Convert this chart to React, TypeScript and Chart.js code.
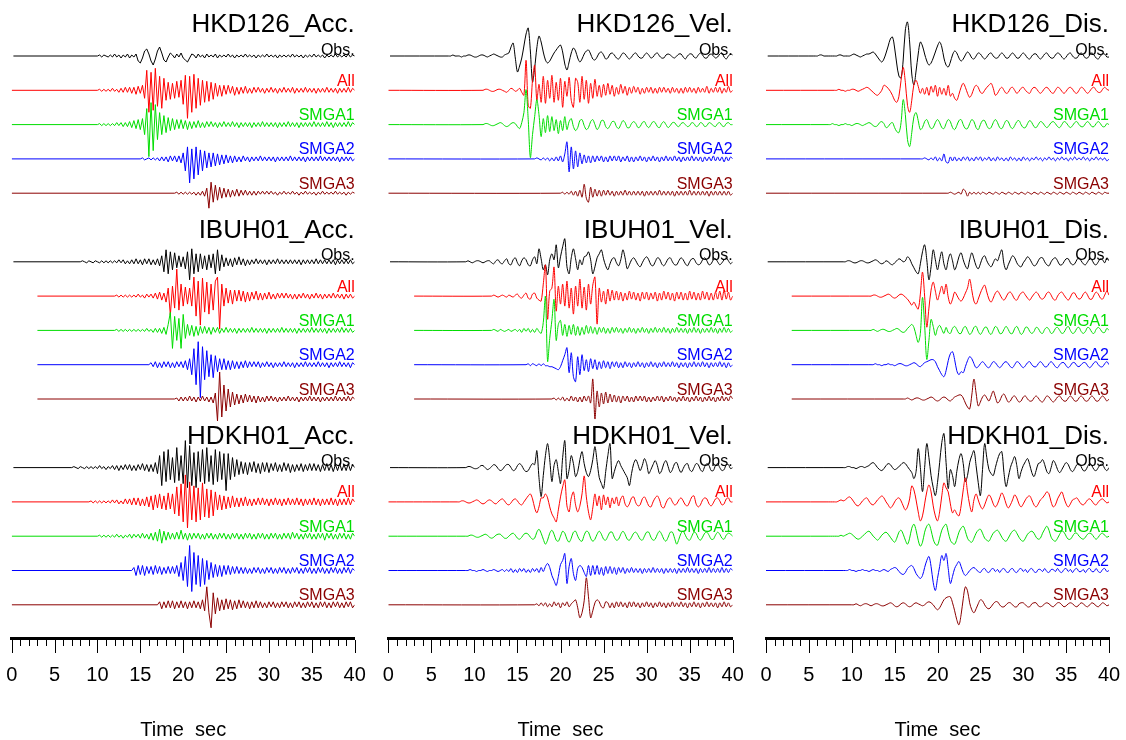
import { useEffect, useRef } from "react";
import { Chart, registerables } from "chart.js";

Chart.register(...registerables);

// ---------------------------------------------------------------------------
// Labels and styling of the record section
// ---------------------------------------------------------------------------
const stations = ["HKD126", "IBUH01", "HDKH01"];
const quantities = ["Acc.", "Vel.", "Dis."];
const traceNames = ["Obs.", "All", "SMGA1", "SMGA2", "SMGA3"];
const traceColors = ["#000000", "#ff0000", "#00dd00", "#0000ff", "#8b0000"];
const timeTicks = [0, 5, 10, 15, 20, 25, 30, 35, 40];
const axisTitle = "Time  sec";

// sampling interval of every waveform below (s)
const STEP = 0.25;
// time where the plotted record begins (s): observed records / synthetics per station
const obsStart = 0.2;
const synthStart = [0, 3, 0];

// ---------------------------------------------------------------------------
// Waveforms (normalised amplitude, one value every STEP seconds from onset)
// ---------------------------------------------------------------------------
// HKD126 acceleration
const hkdAccOnset = [10, 10, 10, 15, 19];
const hkdAccObs = [
  0,1,-1,1,0,-1,1,-1,2,-1,1,-2,1,-1,2,-2,1,-1,2,-5,
  -7,-2,5,7,2,-5,-9,-3,5,9,3,-4,-6,-1,3,1,-2,2,-1,3,
  -2,-4,-6,-2,2,1,-2,2,-1,1,-2,2,-1,1,-1,2,-2,1,-1,1,
  -1,2,-1,1,-2,1,-1,1,-1,2,-1,1,-1,1,-2,1,-1,1,-1,2,
  -1,1,-1,1,-2,1,-1,1,-1,1,-1,2,-1,1,-1,1,-2,1,-1,1,
  -1,2,-1,1,-1,1,-2,1,-1,1,-1,2,-1,1,-1,1,-1,2,-1,1,
  0,
];
const hkdAccAll = [
  0,1,-1,1,-1,1,-1,2,-1,1,-2,2,-2,3,-2,3,-3,3,-4,4,
  -3,5,-8,20,-22,18,-20,22,-16,14,-18,12,-10,8,-9,7,-8,9,-7,10,
  -14,15,-28,14,-22,16,-18,12,-15,10,-12,9,-11,8,-9,7,-6,5,-6,5,
  -4,5,-3,4,-5,3,-4,3,-3,4,-3,2,-3,3,-2,3,-2,2,-3,2,
  -2,3,-2,2,-3,2,-2,3,-2,2,-2,3,-3,2,-2,2,-2,3,-2,2,
  -2,2,-3,2,-2,2,-2,3,-2,2,-2,2,-3,2,-2,2,-2,3,-2,2,
  0,
];
const hkdAccS1 = [
  0,1,-1,1,-1,1,-1,1,-1,2,-1,2,-2,2,-2,3,-3,4,-4,5,
  -5,6,-10,16,-32,22,-26,20,-15,12,-10,9,-8,7,-6,6,-5,5,-4,5,
  -4,4,-5,3,-4,3,-3,4,-3,2,-3,3,-2,3,-2,2,-3,2,-2,3,
  -2,2,-2,3,-2,2,-3,2,-2,2,-2,2,-3,2,-2,2,-2,3,-2,2,
  -2,2,-2,2,-3,2,-2,2,-2,3,-2,2,-2,2,-3,2,-2,2,-2,2,
  -2,3,-2,2,-2,2,-2,3,-2,2,-3,2,-2,2,-2,2,-2,3,-2,2,
  0,
];
const hkdAccS2 = [
  0,1,-1,0,1,-1,1,-1,1,-2,2,-2,2,-3,3,-2,3,-3,3,-4,
  6,-12,12,-24,10,-20,12,-16,9,-12,8,-9,6,-8,6,-7,5,-6,4,-5,
  4,-4,3,-4,3,-3,2,-3,3,-2,2,-3,2,-2,2,-2,3,-2,2,-2,
  2,-2,2,-3,2,-2,2,-2,2,-2,3,-2,2,-2,2,-2,2,-3,2,-2,
  2,-2,2,-2,3,-2,2,-2,2,-2,2,-2,2,-3,2,-2,2,-2,2,-2,
  0,
];
const hkdAccS3 = [
  0,1,-1,1,
  -1,1,-1,1,-1,1,-2,1,-2,2,-3,5,-15,11,-9,8,-7,6,-5,5,
  -4,4,-4,3,-3,4,-3,3,-2,3,-2,2,-2,2,-2,2,-1,2,-1,2,
  -1,2,-1,1,-2,1,-1,2,-1,1,-1,2,-1,1,-2,1,-1,2,-1,1,
  -1,1,-2,1,-1,2,-1,1,-1,1,-1,2,-1,1,-1,1,-2,1,-1,1,
  0,
];

// IBUH01 acceleration
const ibuAccOnset = [8, 12, 12, 16, 19];
const ibuAccObs = [
  0,1,0,-1,1,0,-1,1,0,-1,1,-1,1,-1,1,-1,1,-1,2,-1,
  2,-2,1,-2,2,-2,3,-2,2,-3,3,-2,3,-3,2,-3,3,-4,6,-10,
  12,-12,10,-8,9,-6,6,-5,5,-7,10,-18,13,-12,8,-10,8,-7,6,-8,
  7,-6,8,-12,12,-9,7,-5,4,-4,3,-5,4,-3,5,-3,3,-4,2,-3,
  2,-2,3,-2,2,-2,2,-3,2,-2,2,-2,3,-2,2,-2,2,-2,2,-2,
  2,-2,2,-3,2,-2,2,-2,2,-2,3,-2,2,-2,2,-2,2,-2,2,-3,
  2,-2,2,-2,2,-2,2,-2,0,
];
const ibuAccAll = [
  0,1,-1,1,-1,1,-1,1,-1,1,-1,2,-1,1,-2,2,-1,2,-2,3,
  -3,4,-4,3,-6,8,-19,10,-12,27,-14,12,-10,9,-8,8,-10,19,-20,15,
  -29,18,-16,14,-18,12,-14,15,19,-33,12,-10,8,-7,6,-8,6,-5,6,-5,
  5,-6,4,-5,4,-3,5,-4,3,-4,3,-3,4,-3,2,-3,3,-2,3,-2,
  3,-2,2,-3,2,-3,2,-2,3,-2,2,-3,2,-2,3,-2,2,-3,2,-2,
  2,-2,3,-2,2,-2,2,-3,2,-2,2,-2,0,
];
const ibuAccS1 = [
  0,1,-1,1,-1,1,-1,1,-1,1,-1,1,-1,1,-1,2,-1,1,-2,2,
  -2,2,-3,3,-4,6,18,-18,14,-10,12,-18,16,-8,6,-5,5,-6,4,-5,
  4,-3,4,-3,3,-4,3,-2,3,-3,2,-2,3,-2,2,-2,2,-3,2,-2,
  2,-2,2,-2,3,-2,2,-2,2,-2,2,-3,2,-2,2,-2,2,-2,3,-2,
  2,-2,2,-2,2,-3,2,-2,2,-2,2,-2,3,-2,2,-2,2,-2,2,-3,
  2,-2,2,-2,2,-2,3,-2,2,-2,2,-2,0,
];
const ibuAccS2 = [
  0,2,-2,3,-3,2,-3,3,-2,3,-3,2,-3,3,-2,3,-3,4,-5,6,
  -10,16,-20,23,-33,18,-15,14,-12,10,-13,9,-7,6,-5,6,-5,4,-5,4,
  -4,3,-4,3,-3,4,-3,3,-2,3,-2,3,-3,2,-2,3,-2,2,-3,2,
  -2,2,-2,3,-2,2,-2,2,-3,2,-2,2,-2,3,-2,2,-2,2,-2,3,
  -2,2,-2,2,-3,2,-2,2,-2,3,-2,2,-2,2,-3,2,0,
];
const ibuAccS3 = [
  0,1,-2,2,
  -2,2,-2,3,-2,2,-3,2,-2,3,-2,2,-3,2,-4,6,-22,27,-18,14,
  -12,10,-8,7,-6,5,-5,4,-4,5,-3,4,-3,3,-4,3,-3,2,-3,3,
  -2,3,-2,2,-3,2,-2,2,-2,3,-2,2,-2,2,-3,2,-2,2,-2,3,
  -2,2,-2,2,-3,2,-2,2,-2,2,-2,3,-2,2,-2,2,-2,3,-2,2,
  0,
];

// HDKH01 acceleration
const hdkAccOnset = [7, 9, 10, 14, 17];
const hdkAccObs = [
  0,1,0,-1,1,0,-1,1,-1,1,-1,1,-1,2,-1,1,-2,1,-1,2,
  -2,2,-3,2,-2,3,-2,3,-3,2,-3,3,-2,4,-3,3,-4,3,-4,5,
  -6,12,-18,16,-14,18,-12,10,-15,20,-13,12,-16,27,-20,22,-18,15,-20,16,
  -14,18,-16,20,-14,12,-17,18,-14,16,-12,14,-23,14,-12,10,-9,8,-7,6,
  -6,5,-7,5,-4,6,-5,4,-6,5,-4,5,-5,4,-3,5,-4,3,-4,5,
  -3,4,-5,3,-4,3,-3,4,-4,3,-3,4,-3,4,-3,3,-4,3,-3,4,
  -3,3,-4,3,-3,4,-3,3,-3,4,-3,3,0,
];
const hdkAccAll = [
  0,1,-1,1,-1,1,-1,1,-1,1,-1,2,-1,2,-2,1,-2,3,-2,3,
  -3,4,-3,4,-4,3,-4,5,-5,6,-8,7,-6,8,-7,6,-8,9,-7,8,
  -12,15,-14,18,-20,27,-26,20,-18,16,-20,14,-18,19,-15,13,-16,12,-14,10,
  -8,7,-8,6,-7,5,-6,6,-5,4,-5,4,-4,5,-4,3,-4,3,-3,4,
  -3,4,-3,3,-4,3,-3,4,-3,3,-4,3,-3,4,-3,3,-3,4,-3,3,
  -4,3,-3,3,-3,4,-3,3,-4,3,-3,3,-3,4,-3,3,-4,3,-3,3,
  -3,4,-3,3,0,
];
const hdkAccS1 = [
  0,1,-1,1,-1,1,-1,1,-1,2,-1,1,-2,1,-1,2,-2,2,-1,2,
  -2,3,-2,2,-3,3,-4,4,-5,7,-7,5,-4,4,-3,3,-3,4,-3,6,
  -3,3,-4,3,-3,3,-2,3,-3,2,-3,3,-2,3,-3,2,-3,3,-2,3,
  -3,2,-3,3,-2,3,-3,2,-3,3,-2,3,-3,2,-3,3,-2,3,-3,2,
  -3,3,-2,3,-3,2,-3,3,-2,3,-3,4,-2,3,-3,2,-3,3,-2,3,
  -3,2,-3,3,-2,3,-4,3,-2,3,-3,2,-3,3,-2,3,-3,2,-3,3,
  0,
];
const hdkAccS2 = [
  0,3,-5,5,-4,5,-5,4,-3,4,-4,5,-3,4,-4,3,-3,4,-3,4,
  -3,5,-6,8,-10,14,-16,25,-21,18,-14,15,-16,12,-14,10,-9,8,-7,6,
  -6,5,-6,5,-4,5,-4,4,-3,4,-3,3,-3,3,-3,2,-3,3,-2,3,
  -3,2,-3,3,-2,3,-3,2,-3,3,-2,3,-3,2,-3,3,-2,3,-3,2,
  -3,3,-2,3,-3,2,-3,3,-2,3,-3,2,-3,3,-2,3,-3,2,-3,3,
  -2,3,-3,2,0,
];
const hdkAccS3 = [
  0,3,-4,3,-3,4,-3,4,-4,3,-3,4,-3,3,-4,3,-3,4,-3,3,
  -4,5,-6,18,-8,-23,12,-9,7,-6,5,-5,6,-4,5,-5,4,-4,5,-3,
  4,-3,3,-4,3,-3,4,-3,3,-3,2,-3,3,-2,3,-3,2,-3,3,-2,
  3,-3,2,-3,3,-2,3,-3,2,-3,3,-2,3,-3,2,-3,3,-2,3,-3,
  2,-3,3,-2,3,-3,2,-3,3,-2,3,-3,0,
];

// HKD126 velocity
const hkdVelOnset = [7, 11, 11, 17, 20];
const hkdVelObs = [
  0,0,1,0,0,0,-1,0,0,1,1,0,-1,-1,0,1,1,0,-1,0,
  1,2,1,0,-1,-1,1,2,3,9,13,-2,-16,-10,-2,10,22,28,5,-26,
  -12,8,20,14,4,-4,-7,-5,-1,3,6,9,11,4,-8,-14,-6,3,8,5,
  -2,-6,-3,2,5,6,2,-3,-4,-1,3,4,1,-3,-2,2,3,1,-2,-3,
  0,3,2,-1,-3,-1,2,3,0,-2,-2,1,3,1,-2,-1,2,3,0,-2,
  -2,1,2,1,-1,-2,0,2,2,-1,-3,0,2,2,-1,-2,1,3,1,-2,
  -2,1,2,0,-2,-1,2,3,-1,-3,0,2,1,
];
const hkdVelAll = [
  0,1,1,0,-1,-1,0,1,1,0,-1,-2,0,2,1,-1,0,2,-2,-5,
  30,-15,-18,10,25,-10,6,-12,14,-13,10,-8,15,-12,8,-10,12,-17,9,-6,
  13,-10,-17,12,8,-12,14,-9,10,-13,7,-8,11,-6,5,-7,6,-5,7,-4,
  5,-6,3,-4,6,-3,4,-5,3,-3,4,-2,3,-4,2,-3,3,-2,3,-3,
  2,-3,3,-2,3,-2,2,-3,3,-2,2,-3,2,-3,3,-2,3,-2,2,-3,
  3,-2,2,-2,4,-3,2,-2,3,-2,3,-3,2,-2,4,-2,0,
];
const hkdVelS1 = [
  0,1,1,0,-1,-1,0,1,2,1,-1,-2,-1,1,2,1,-2,-4,2,12,
  35,5,-33,-10,8,25,10,-12,6,-8,9,-7,8,-6,5,-9,4,-6,8,-5,
  3,6,-2,-6,-3,4,5,-1,-5,-3,3,5,0,-5,-2,4,4,-2,-4,-1,
  3,3,-2,-4,0,4,2,-3,-3,1,3,1,-3,-2,2,3,-1,-3,0,3,
  2,-2,-3,1,3,0,-3,-1,2,2,-1,-2,1,2,0,-2,-1,2,1,-2,
  -1,2,1,-2,-1,2,1,-1,-2,1,2,-1,-2,1,2,0,0,
];
const hkdVelS2 = [
  0,1,0,-1,1,-1,1,-2,1,-2,2,-2,3,-3,5,17,-13,12,-10,8,
  -8,6,-5,4,-4,3,-4,3,-3,3,-2,3,-3,2,-3,3,-2,3,-2,3,
  -3,2,-2,3,-3,2,-3,2,-2,3,-2,2,-3,2,-2,3,-2,2,-3,2,
  -2,3,-2,2,-2,3,-2,2,-3,2,-2,2,-2,3,-2,2,-2,2,-3,2,
  -2,2,-2,3,-2,2,-2,2,-3,2,-2,2,0,
];
const hkdVelS3 = [
  0,1,-1,1,-1,2,-2,2,-3,3,-4,9,-5,-9,6,-4,4,-3,3,-3,
  3,-2,3,-2,2,-3,2,-2,2,-2,3,-2,2,-2,2,-2,2,-2,2,-3,
  2,-2,2,-2,2,-2,3,-2,2,-2,2,-2,2,-3,2,-2,2,-2,2,-2,
  3,-2,2,-2,2,-2,2,-2,2,-3,2,-2,2,-2,2,-2,2,-2,2,-2,
  0,
];

// IBUH01 velocity
const ibuVelOnset = [9, 12, 12, 16, 19];
const ibuVelObs = [
  0,1,0,-1,0,1,1,0,-1,0,1,1,-1,-2,1,2,-1,-2,1,3,
  -2,-3,2,4,-1,-4,1,4,2,-3,-4,2,5,-2,13,3,-8,-3,-13,2,
  8,2,17,-6,5,15,23,-5,-12,4,13,3,-8,2,-3,5,6,10,2,-12,
  -5,4,8,12,3,-4,-8,-2,3,4,-1,-4,2,12,4,-7,-3,2,4,1,
  -3,-5,-1,3,5,2,-3,-4,0,4,3,-2,-4,-1,3,4,0,-3,-3,1,
  4,2,-2,-4,0,3,3,-1,-3,-2,2,4,1,-3,-2,2,3,0,-3,-1,
  2,4,1,-2,0,
];
const ibuVelAll = [
  0,1,0,-1,0,1,0,-1,1,0,-1,1,2,-1,-2,1,3,-2,-3,2,
  3,-2,-4,-5,12,31,-23,5,8,29,-15,10,-8,12,-10,15,-12,8,-18,10,
  -10,17,-12,9,-14,12,-8,11,19,-28,8,-6,5,-8,7,-5,6,-4,5,-4,
  4,-5,3,-4,5,-3,4,-4,3,-5,4,-3,4,-4,3,-3,4,-5,3,-4,
  5,-3,4,-4,3,-5,4,-3,4,-4,3,-4,5,-3,4,-4,3,-4,5,-3,
  4,-4,3,-4,4,-3,5,-4,6,-3,4,-4,0,
];
const ibuVelS1 = [
  0,1,0,-1,1,0,-1,0,1,-1,0,1,-1,1,-2,2,-1,2,-2,1,
  -2,2,-1,-3,8,34,-31,-8,10,31,-10,6,10,-5,6,-6,5,-4,6,-5,
  4,-5,3,-4,5,-3,4,-3,3,-4,3,-2,3,-3,2,-3,3,-2,3,-2,
  2,-3,2,-2,3,-2,2,-3,2,-2,3,-2,2,-3,2,-2,3,-2,2,-2,
  3,-2,2,-3,2,-2,3,-2,2,-2,2,-3,2,-2,3,-2,2,-3,2,-2,
  2,-2,3,-2,2,-3,2,-2,3,-2,2,-2,0,
];
const ibuVelS2 = [
  0,1,-1,1,0,-1,1,-1,1,-1,-1,-2,-2,-3,-4,-5,-2,4,10,17,
  -8,12,-12,-17,8,-10,10,-6,5,-7,6,-4,5,-5,3,-4,4,-3,3,-4,
  3,-2,3,-3,2,-3,3,-2,2,-3,2,-2,3,-2,2,-3,2,-2,3,-2,
  2,-3,2,-2,3,-2,2,-2,3,-2,2,-3,2,-2,2,-3,2,-2,3,-2,
  2,-2,3,-2,2,-3,2,-2,2,-2,3,-2,2,-3,2,-2,0,
];
const ibuVelS3 = [
  0,1,-1,1,
  -1,2,-2,1,-2,3,-2,2,-3,2,-3,3,-2,3,-4,20,-20,8,-8,6,
  -5,7,-4,5,-3,4,-3,3,-4,3,-2,3,-3,2,-3,3,-2,3,-2,3,
  -3,2,-3,2,-2,3,-2,3,-3,2,-2,3,-2,2,-3,2,-2,3,-2,2,
  -3,2,-2,3,-2,2,-3,2,-2,3,-2,2,-3,2,-2,3,-2,2,-2,3,
  0,
];

// HDKH01 velocity
const hdkVelOnset = [9, 8, 9, 9, 17];
const hdkVelObs = [
  0,1,1,0,-1,-1,0,2,2,0,-2,-1,1,3,2,-1,-3,-2,1,3,
  3,0,-3,-2,2,4,2,-2,-4,-3,1,4,3,17,-10,-29,-8,12,24,8,
  -14,2,8,-4,-16,10,27,-11,-2,12,4,-9,-4,8,16,4,-5,-9,-3,8,
  21,6,-10,-16,-21,-4,12,24,-11,-4,3,7,2,-2,-6,-10,-18,-6,4,8,
  3,-3,2,9,4,-6,-2,3,7,2,-6,-3,4,7,1,-5,-2,4,5,-1,
  -5,-1,3,4,-2,-4,0,4,3,-2,-4,1,4,2,-3,-3,2,4,0,-3,
  -2,3,3,-1,0,
];
const hdkVelAll = [
  0,0,1,1,0,-1,-1,0,1,2,1,-1,-2,-1,1,2,1,-1,-2,0,
  2,3,1,-2,-3,-1,2,3,1,-2,-3,0,3,6,8,3,-6,-11,-5,4,
  4,8,4,-5,-12,-16,-20,-8,5,15,22,-4,-10,4,10,-3,-10,-4,8,26,
  5,-10,-18,-6,8,-4,6,-8,7,-3,5,-6,4,-2,5,-4,3,6,-2,-5,
  -2,4,5,-1,-4,-3,3,5,1,-4,-5,0,4,6,2,-5,-6,-1,3,4,
  0,-3,-2,2,4,1,-3,-4,0,5,6,-2,-5,-3,2,4,3,-2,-4,-1,
  3,4,1,-3,-2,3,4,0,0,
];
const hdkVelS1 = [
  0,0,1,1,0,-1,-1,0,1,2,1,-1,-2,-1,1,2,2,0,-2,-2,
  0,2,3,1,-2,-3,-1,2,3,2,-1,-3,-2,4,7,3,-3,-8,-4,3,
  6,2,-4,-5,0,5,3,-3,-6,-2,4,5,0,-4,-5,1,5,4,-2,-5,
  -3,2,5,2,-3,-4,0,4,4,-1,-4,-3,2,5,2,-3,-4,-1,3,4,
  1,-3,-4,0,4,4,-1,-4,-3,2,5,2,-3,-5,-1,4,4,-2,-8,-3,
  3,5,1,-3,-4,0,4,3,-2,-4,-1,3,4,1,-3,-3,1,4,2,-2,
  -3,1,3,2,0,
];
const hdkVelS2 = [
  0,0,1,0,0,-1,0,0,1,0,-1,0,0,1,0,-1,0,1,-1,1,
  -1,2,-2,1,-2,2,-1,2,-2,1,-2,2,-1,2,-2,3,-1,4,7,3,
  -5,-10,-15,-6,6,10,17,-13,4,12,-3,-10,2,5,3,-2,-6,5,-5,5,
  -4,5,-4,3,-5,4,-3,4,-3,3,-4,3,-2,3,-3,2,-2,3,-2,2,
  -2,2,-3,2,-2,2,-2,3,-2,2,-2,2,-3,2,-2,2,-2,2,-3,2,
  -2,2,-2,3,-2,2,-2,2,-3,2,-2,2,-2,3,-2,2,-2,2,-2,3,
  -2,2,-2,2,0,
];
const hdkVelS3 = [
  0,1,-1,2,-1,2,-2,1,-2,3,-1,2,-3,2,-1,3,-2,1,3,5,
  -3,-13,-8,4,27,8,-13,-6,2,5,3,-2,-3,3,2,-3,2,-3,3,-2,
  3,-2,2,-3,3,-2,3,-2,2,-3,2,-2,3,-2,2,-3,2,-2,3,-2,
  2,-3,2,-2,3,-2,2,-2,3,-2,2,-3,2,-2,3,-2,2,-3,2,-2,
  3,-2,2,-2,2,-3,2,-2,3,-2,2,-2,0,
];

// HKD126 displacement
const hkdDisOnset = [5, 8, 7, 18, 21];
const hkdDisObs = [
  0,0,0,0,0,1,1,0,0,0,0,0,0,0,1,1,0,0,0,0,
  1,2,1,0,-1,0,1,2,2,3,4,2,-1,-4,-6,-3,3,10,17,19,
  8,-8,-20,-22,-4,26,34,14,-18,-29,-15,2,14,10,2,-5,-9,-7,-2,4,
  10,14,9,-2,-9,-11,-6,1,5,3,-2,-5,-3,1,4,2,-2,-3,0,3,
  2,-1,-3,-1,2,3,0,-2,-2,1,3,1,-2,-2,1,3,1,-2,-2,1,
  3,1,-2,-3,0,2,2,-1,-3,-1,2,3,0,-2,-2,1,3,2,-1,-3,
  -1,2,3,0,-2,-2,1,3,1,-2,-2,1,3,1,-2,-3,0,2,2,-1,
  -1,
];
const hkdDisAll = [
  0,0,1,0,0,-1,0,0,1,1,0,-1,0,1,2,3,2,0,-2,-4,
  -5,-3,0,5,4,2,-1,-5,-10,-12,-6,10,23,8,-15,-22,-10,6,10,4,
  -3,2,-4,3,-5,4,-2,5,-6,3,-4,2,-5,5,-6,-3,-8,-10,-4,3,
  7,3,-3,-7,-4,2,5,3,-2,-3,0,3,5,7,2,-5,-3,1,3,0,
  -3,-2,2,3,0,-3,-1,2,3,0,-2,-3,1,3,2,-1,-3,-1,2,3,
  1,-2,-3,0,3,2,-1,-3,-1,2,3,1,-2,-3,0,3,2,-1,-3,-1,
  2,3,0,-2,-2,1,3,1,0,
];
const hkdDisS1 = [
  0,0,0,1,0,0,-1,0,0,1,0,0,-1,0,1,1,0,-1,0,1,
  2,1,-1,-2,-1,2,3,1,-3,-2,1,2,-3,-7,-8,2,25,10,-15,-22,
  -8,8,12,4,-5,-3,3,5,0,-4,-3,2,5,2,-3,-4,1,5,3,-3,
  -5,-1,4,5,0,-4,-4,1,5,3,-3,-5,0,4,4,-1,-4,-3,2,5,
  2,-3,-4,0,4,3,-2,-4,-1,3,4,0,-3,-3,1,4,2,-2,-3,0,
  3,2,-1,-3,-1,2,3,1,-2,-3,0,3,2,-1,-3,-1,2,3,0,-2,
  -2,1,3,1,-2,-2,1,3,1,-2,-2,1,0,
];
const hkdDisS2 = [
  0,0,1,0,-1,1,-1,2,-2,1,-2,5,-3,-4,2,-2,2,-2,1,-2,
  2,-1,2,-2,1,-2,2,-1,2,-2,1,-1,2,-2,1,-2,2,-1,1,-2,
  1,-2,2,-1,1,-2,1,-2,2,-1,1,-2,1,-1,2,-1,1,-2,1,-1,
  2,-1,1,-2,1,-1,2,-1,1,-2,1,-1,2,-1,1,-1,2,-1,1,-2,
  1,-1,2,-1,1,-1,1,-2,0,
];
const hkdDisS3 = [
  0,0,1,0,-1,0,1,-1,4,2,-3,1,-1,1,-1,1,-1,1,0,-1,
  1,0,-1,1,0,-1,1,0,-1,1,0,-1,1,0,-1,1,0,-1,1,0,
  -1,1,0,-1,1,0,-1,1,0,-1,1,0,-1,1,0,-1,1,0,-1,1,
  0,-1,1,0,-1,1,0,-1,1,0,-1,1,0,-1,1,0,0,
];

// IBUH01 displacement
const ibuDisOnset = [9, 12, 12, 12, 16];
const ibuDisObs = [
  0,0,1,1,0,-1,-1,0,1,1,0,-1,-1,0,1,2,1,-1,-2,-1,
  1,0,-2,-3,-1,1,3,2,0,1,5,3,-2,-6,-10,-12,-2,10,17,2,
  -18,-5,12,2,-8,2,10,-2,-8,2,8,1,-8,-3,5,9,2,-4,-7,2,
  9,3,-4,-7,-2,4,6,1,-3,-5,-1,3,1,7,12,-2,-8,-3,2,6,
  4,-1,-4,-5,-1,2,5,3,-1,-4,-3,1,4,4,0,-3,-4,0,3,4,
  1,-3,-3,0,3,3,-1,-3,-2,2,4,1,-2,-3,0,3,2,-2,-3,0,
  3,2,-1,4,1,
];
const ibuDisAll = [
  0,0,1,1,0,-1,-1,0,1,2,1,-1,-2,-1,1,2,1,-1,-3,-6,
  -9,-6,-10,-13,2,24,0,-31,-12,6,14,5,-4,3,10,2,12,-1,-8,-3,
  4,1,-3,-5,-2,3,8,17,6,-5,-8,-3,3,8,11,4,-3,-6,-2,3,
  5,2,-2,-4,-1,3,4,1,-3,-4,0,3,4,1,-2,-4,-1,2,4,2,
  -2,-3,-1,3,4,1,-3,-4,0,3,4,1,-2,-4,-1,3,3,-1,-3,-2,
  2,4,1,-3,-3,1,4,2,-2,-3,1,5,1,
];
const ibuDisS1 = [
  0,0,1,0,-1,0,1,1,0,-1,-1,0,1,2,1,-1,-2,-1,2,4,
  6,3,-5,-12,-3,33,5,-29,-10,11,4,-5,2,5,1,-3,3,-2,-3,2,
  4,1,-3,-3,2,4,0,-4,-2,3,4,-1,-4,-1,3,3,-2,-4,0,4,
  2,-3,-3,1,4,1,-3,-3,2,4,0,-4,-2,3,3,-1,-3,-1,3,2,
  -2,-3,1,3,1,-3,-2,2,3,0,-3,-2,2,4,0,-3,-2,2,3,-1,
  -3,-1,3,2,-2,-3,1,3,1,-2,-2,2,0,
];
const ibuDisS2 = [
  0,0,0,1,0,0,-1,0,0,1,0,0,-1,0,1,1,0,-1,-1,0,
  1,2,1,-1,-2,0,2,3,4,5,5,3,-2,-6,-10,-12,-6,4,11,13,
  5,-6,-10,-7,-8,-2,4,8,6,1,-3,-2,1,3,1,-2,-3,0,3,2,
  -1,-3,-1,2,3,1,-2,-3,0,3,2,-1,-3,-1,2,3,0,-2,-2,1,
  3,1,-2,-2,1,3,1,-2,-3,0,2,2,-1,-3,-1,2,2,-1,-2,0,
  2,2,-1,-3,-1,2,3,0,-2,-2,1,3,0,
];
const ibuDisS3 = [
  0,0,1,0,-1,0,1,1,0,-1,-1,0,1,2,1,-1,-2,-1,1,2,
  1,-1,-2,0,2,3,4,4,1,-4,-8,-10,4,20,6,-7,-3,2,4,1,
  -2,3,8,2,-4,-2,3,5,1,-3,-2,2,3,0,-3,-2,2,3,0,-2,
  -2,1,3,1,-2,-3,0,3,2,-1,-3,-1,2,3,0,-2,-2,1,3,1,
  -2,-2,1,3,1,-2,-2,1,3,1,-2,-2,1,3,1,-2,0,
];

// HDKH01 displacement
const hdkDisOnset = [9, 7, 7, 9, 10];
const hdkDisObs = [
  0,0,1,1,0,0,-1,0,1,1,0,1,2,4,5,3,0,-2,-3,-1,
  2,4,3,0,-2,-1,1,3,5,4,1,-2,-5,-11,-4,19,0,-24,0,24,
  10,-8,-20,-28,-15,5,25,34,5,-21,-2,-8,-19,-4,8,14,4,-14,-8,5,
  12,17,2,-15,-28,-2,24,10,-2,-6,-8,0,8,14,16,-5,-19,-10,0,6,
  11,2,-11,-4,2,6,9,3,-5,-9,-3,4,5,8,3,-4,-6,0,7,4,
  -2,-5,-2,2,5,3,-2,-4,-1,3,4,1,-3,-3,1,4,2,-2,-3,0,
  3,3,-1,-3,0,
];
const hdkDisAll = [
  0,0,0,0,0,0,1,2,1,2,4,5,3,0,-3,-4,-2,1,3,4,
  1,-2,-3,-1,2,4,6,4,0,-3,-6,-4,0,3,4,1,-4,-8,-5,3,
  16,12,2,-10,-19,-14,-2,10,17,10,-4,-14,-19,-10,6,19,14,10,-2,-11,
  -8,-12,-14,-4,12,24,10,-3,-10,2,8,2,-4,-7,-3,3,7,4,-2,-5,
  -2,4,9,5,-2,-6,-3,2,7,4,-2,-5,-2,2,5,6,2,-3,-5,-2,
  2,4,7,10,8,0,-5,-3,3,7,10,4,-2,-5,-2,2,3,4,1,-2,
  -3,-1,2,3,1,-2,-3,0,2,3,1,-1,0,
];
const hdkDisS1 = [
  0,0,0,0,0,0,0,1,0,1,2,3,2,0,-2,-3,-2,0,2,4,
  5,3,0,-2,-4,-2,1,3,4,2,-1,-4,-6,-2,4,6,2,-4,-8,-2,
  8,12,6,-4,-10,-6,4,10,12,6,-3,-8,-9,-2,6,10,12,4,-4,-7,
  -8,-3,4,8,10,5,-2,-5,-6,-2,3,6,7,3,-2,-4,-5,-1,3,5,
  6,3,-1,-4,-5,-2,2,5,6,3,-1,-4,-5,-2,2,4,5,3,-1,-3,
  -2,3,7,10,6,-1,-4,-5,-2,2,5,4,0,-3,-3,0,3,3,0,-2,
  -3,-1,2,3,2,-1,-3,-1,2,3,1,-1,0,
];
const hdkDisS2 = [
  0,0,0,1,0,0,-1,0,0,1,0,0,-1,0,1,0,0,-1,0,1,
  0,-1,1,2,3,2,-1,-3,-4,-2,2,4,5,2,-3,-6,-8,-5,3,10,
  14,4,-12,-20,-8,4,15,10,17,2,-13,-6,2,6,9,4,-2,-5,-3,0,
  2,3,1,-1,-2,1,2,-1,-2,1,2,-1,1,-2,1,2,-1,-2,1,2,
  -1,-2,1,2,-1,1,-2,1,2,-1,-2,1,1,-1,2,-1,-2,1,1,-1,
  2,-1,-2,1,2,-1,1,-2,1,2,-1,-1,1,-2,1,2,-1,-1,2,-1,
  -2,1,2,-1,0,
];
const hdkDisS3 = [
  0,0,1,0,-1,0,1,1,0,-1,0,1,1,0,-1,-1,0,1,2,1,
  -1,-2,-1,1,2,1,-1,-2,-1,1,2,1,0,-1,0,2,3,2,0,-3,
  -5,-3,1,5,7,8,8,2,-6,-15,-20,-10,6,18,14,2,-5,-8,-4,1,
  5,4,0,-3,-4,-2,1,3,3,0,-2,-2,0,2,2,0,-2,-2,1,2,
  2,0,-2,-2,1,2,2,-1,-2,-1,1,2,1,-1,-2,0,2,2,0,-2,
  -1,1,2,1,-1,-2,0,2,1,-1,-2,0,2,1,-1,-2,0,2,1,-1,
  0,
];

// traces per column: [station][trace]
const accTraces = [
  [hkdAccObs, hkdAccAll, hkdAccS1, hkdAccS2, hkdAccS3],
  [ibuAccObs, ibuAccAll, ibuAccS1, ibuAccS2, ibuAccS3],
  [hdkAccObs, hdkAccAll, hdkAccS1, hdkAccS2, hdkAccS3],
];
const velTraces = [
  [hkdVelObs, hkdVelAll, hkdVelS1, hkdVelS2, hkdVelS3],
  [ibuVelObs, ibuVelAll, ibuVelS1, ibuVelS2, ibuVelS3],
  [hdkVelObs, hdkVelAll, hdkVelS1, hdkVelS2, hdkVelS3],
];
const disTraces = [
  [hkdDisObs, hkdDisAll, hkdDisS1, hkdDisS2, hkdDisS3],
  [ibuDisObs, ibuDisAll, ibuDisS1, ibuDisS2, ibuDisS3],
  [hdkDisObs, hdkDisAll, hdkDisS1, hdkDisS2, hdkDisS3],
];
const accOnsets = [hkdAccOnset, ibuAccOnset, hdkAccOnset];
const velOnsets = [hkdVelOnset, ibuVelOnset, hdkVelOnset];
const disOnsets = [hkdDisOnset, ibuDisOnset, hdkDisOnset];

// ---------------------------------------------------------------------------
// Layout
// ---------------------------------------------------------------------------
const FONT = '"Liberation Sans", Arial, Helvetica, sans-serif';
const WIDTH = 1126;
const HEIGHT = 740;
const ROW = 34.3; // spacing between trace baselines (y units == px)
const Y_MAX = 56;
const Y_MIN = -582.5;
const AXIS_BOX = 101.5; // height reserved below the plot for the time axis

type Column = {
  left: number;
  width: number;
  padLeft: number;
  padRight: number;
  quantity: string;
  traces: number[][][];
  onsets: number[][];
  tension: number;
};

const columns: Column[] = [
  { left: 0, width: 375, padLeft: 11.7, padRight: 20.3, quantity: quantities[0], traces: accTraces, onsets: accOnsets, tension: 0 },
  { left: 375, width: 375, padLeft: 13.3, padRight: 17.3, quantity: quantities[1], traces: velTraces, onsets: velOnsets, tension: 0.3 },
  { left: 750, width: 376, padLeft: 16, padRight: 17, quantity: quantities[2], traces: disTraces, onsets: disOnsets, tension: 0.35 },
];

const slotValue = (slot: number) => -ROW * slot;

function buildDatasets(col: Column) {
  const sets: any[] = [];
  stations.forEach((_, g) => {
    col.traces[g].forEach((values, j) => {
      const base = slotValue(6 * g + j);
      const onset = col.onsets[g][j];
      const start = j === 0 ? obsStart : synthStart[g];
      const data = [{ x: start, y: base }].concat(
        values.map((v, i) => ({ x: onset + i * STEP, y: base + v }))
      );
      sets.push({
        data,
        borderColor: traceColors[j],
        borderWidth: 1,
        pointRadius: 0,
        fill: false,
        tension: col.tension,
        order: -(6 * g + j),
        clip: { left: 0, right: 0, top: false, bottom: false },
      });
    });
  });
  return sets;
}

// station / component titles and trace names
const traceLabels = {
  id: "traceLabels",
  afterDatasetsDraw(chart: any, _args: any, opts: any) {
    const { ctx } = chart;
    const right = chart.scales.x.right;
    const y = chart.scales.y;
    ctx.save();
    ctx.textAlign = "right";
    ctx.textBaseline = "alphabetic";
    stations.forEach((st, g) => {
      ctx.font = `26px ${FONT}`;
      ctx.fillStyle = "#000";
      ctx.fillText(`${st}_${opts.quantity}`, right, y.getPixelForValue(slotValue(6 * g - 1)) + 10.5);
      ctx.font = `16px ${FONT}`;
      traceNames.forEach((name, j) => {
        ctx.fillStyle = traceColors[j];
        const off = j === 0 ? 1.5 : 4.5;
        ctx.fillText(name, right, y.getPixelForValue(slotValue(6 * g + j)) - off);
      });
    });
    ctx.restore();
  },
};

// major (every 5 s) and minor (every 1 s) tick marks below the time axis
const tickMarks = {
  id: "tickMarks",
  afterDraw(chart: any) {
    const { ctx } = chart;
    const x = chart.scales.x;
    const top = chart.chartArea.bottom + 1.5;
    ctx.save();
    ctx.strokeStyle = "#000";
    ctx.lineWidth = 1;
    for (let t = x.min; t <= x.max; t += 1) {
      const px = Math.round(x.getPixelForValue(t)) + 0.5;
      const len = t % 5 === 0 ? 13 : 6;
      ctx.beginPath();
      ctx.moveTo(px, top);
      ctx.lineTo(px, top + len);
      ctx.stroke();
    }
    ctx.restore();
  },
};

function Panel({ col }: { col: Column }) {
  const ref = useRef<HTMLCanvasElement | null>(null);
  useEffect(() => {
    if (!ref.current) return;
    const chart = new Chart(ref.current, {
      type: "line",
      data: { datasets: buildDatasets(col) },
      options: {
        animation: false,
        responsive: false,
        devicePixelRatio: 1,
        events: [],
        layout: { padding: { left: col.padLeft, right: col.padRight, top: 0, bottom: 0 } },
        plugins: {
          legend: { display: false },
          tooltip: { enabled: false },
          traceLabels: { quantity: col.quantity },
        } as any,
        scales: {
          x: {
            type: "linear",
            position: "bottom",
            min: 0,
            max: 40,
            afterBuildTicks: (s: any) => {
              s.ticks = timeTicks.map((v) => ({ value: v }));
            },
            afterFit: (s: any) => {
              s.height = AXIS_BOX;
            },
            border: { display: true, color: "#000", width: 3 },
            // the tick length only spaces the labels; the marks themselves come from tickMarks
            grid: {
              display: true,
              drawOnChartArea: false,
              drawTicks: true,
              tickLength: 24.5,
              tickColor: "rgba(0,0,0,0)",
            },
            ticks: {
              autoSkip: false,
              maxRotation: 0,
              color: "#000",
              padding: 0,
              font: { family: FONT, size: 20 },
            },
            title: {
              display: true,
              text: axisTitle,
              color: "#000",
              font: { family: FONT, size: 20, lineHeight: 1 },
              padding: { top: 0, bottom: 0 },
            },
          },
          y: { type: "linear", display: false, min: Y_MIN, max: Y_MAX },
        },
      },
      plugins: [traceLabels, tickMarks],
    } as any);
    return () => chart.destroy();
  }, [col]);
  return (
    <canvas
      ref={ref}
      width={col.width}
      height={HEIGHT}
      style={{ position: "absolute", left: col.left, top: 0, width: col.width, height: HEIGHT, display: "block" }}
    />
  );
}

export default function App() {
  return (
    <div style={{ position: "absolute", left: 0, top: 0, width: WIDTH, height: HEIGHT, background: "#fff", overflow: "hidden" }}>
      {columns.map((col) => (
        <Panel key={col.quantity} col={col} />
      ))}
    </div>
  );
}
